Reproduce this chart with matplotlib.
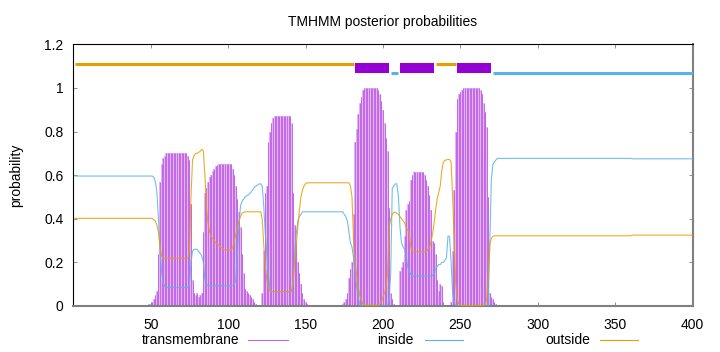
import numpy as np
import matplotlib
matplotlib.use('Agg')
import matplotlib.pyplot as plt
from matplotlib.lines import Line2D

plt.rcParams['font.family'] = ['Liberation Sans', 'DejaVu Sans']

# posterior probabilities per residue (1..400)
tm_prob = ([0.0]*48
           + [0.01, 0.01, 0.02, 0.03, 0.05, 0.07, 0.24, 0.57, 0.65, 0.68, 0.69]
           + [0.70]*14
           + [0.69, 0.67, 0.47, 0.12, 0.06, 0.05, 0.06, 0.04, 0.05, 0.06]
           + [0.34, 0.52, 0.54, 0.57, 0.59, 0.60, 0.62, 0.63, 0.64, 0.645]
           + [0.65]*9
           + [0.63, 0.60, 0.55, 0.49, 0.43, 0.36, 0.24, 0.15, 0.08, 0.07, 0.06, 0.05, 0.04, 0.03, 0.02, 0.01]
           + [0.0]*3
           + [0.06, 0.25, 0.52, 0.55, 0.75, 0.80, 0.84, 0.86]
           + [0.87]*11
           + [0.84, 0.52, 0.37, 0.30, 0.20, 0.15, 0.10, 0.06, 0.03, 0.02, 0.01]
           + [0.0]*22
           + [0.01, 0.02, 0.03, 0.06, 0.13, 0.17, 0.20, 0.42, 0.75, 0.81, 0.88, 0.93, 0.96, 0.99]
           + [1.0]*9
           + [0.99, 0.97, 0.94, 0.90, 0.84, 0.77, 0.71, 0.45, 0.06, 0.03, 0.01]
           + [0.0]*3
           + [0.16, 0.18, 0.20, 0.32, 0.44, 0.47, 0.48, 0.58, 0.60]
           + [0.615]*7
           + [0.60, 0.58, 0.55, 0.51, 0.44, 0.30, 0.29, 0.24, 0.12, 0.07, 0.10, 0.09, 0.02]
           + [0.0]*4
           + [0.02, 0.25, 0.53, 0.80, 0.95, 0.97, 0.98, 0.99]
           + [1.0]*11
           + [0.99, 0.97, 0.93, 0.89, 0.82, 0.50, 0.06, 0.04, 0.03, 0.02, 0.01]
           + [0.0]*127)

inside_prob = ([0.596]*51
               + [0.59, 0.57, 0.52, 0.40, 0.25, 0.16, 0.11, 0.09]
               + [0.085]*15
               + [0.10, 0.20, 0.25, 0.26, 0.26, 0.26, 0.25, 0.24, 0.23, 0.20, 0.12, 0.10]
               + [0.093]*15
               + [0.094, 0.095, 0.10, 0.12, 0.25, 0.37, 0.46, 0.48, 0.49, 0.50, 0.505, 0.51, 0.515,
                  0.525, 0.535, 0.545, 0.55, 0.555, 0.56, 0.56, 0.55, 0.46, 0.33, 0.24, 0.14, 0.08]
               + [0.066]*14
               + [0.10, 0.25, 0.33, 0.39, 0.41, 0.42]
               + [0.432]*27
               + [0.42, 0.41, 0.39, 0.34, 0.29, 0.27, 0.22, 0.16, 0.09, 0.04, 0.01]
               + [0.0]*18
               + [0.03, 0.15, 0.54, 0.55, 0.56, 0.56, 0.50, 0.36, 0.29, 0.27, 0.26, 0.23, 0.18, 0.16, 0.145]
               + [0.137]*13
               + [0.14, 0.15, 0.17, 0.18, 0.19, 0.19, 0.20, 0.20, 0.21, 0.22, 0.32, 0.32, 0.20, 0.06, 0.02]
               + [0.0]*22
               + [0.30, 0.58, 0.65, 0.66, 0.67]
               + [0.677]*87
               + [0.675]*40)

outside_prob = ([0.402]*51
                + [0.395, 0.39, 0.37, 0.34, 0.27, 0.23, 0.22]
                + [0.219]*16
                + [0.26, 0.50, 0.67, 0.69, 0.70, 0.70, 0.705, 0.71, 0.718, 0.71, 0.60, 0.45, 0.38,
                   0.34, 0.32, 0.31, 0.30, 0.29, 0.285, 0.28, 0.27, 0.265, 0.26]
                + [0.257]*5
                + [0.27, 0.30, 0.33, 0.36, 0.39, 0.41, 0.425, 0.43]
                + [0.432]*11
                + [0.40, 0.28, 0.18, 0.12, 0.09]
                + [0.066]*14
                + [0.07, 0.12, 0.20, 0.28, 0.36, 0.44, 0.50, 0.53, 0.55, 0.56]
                + [0.565]*28
                + [0.55, 0.50, 0.30, 0.20, 0.14, 0.09, 0.05, 0.03, 0.01]
                + [0.005]*10
                + [0.01, 0.02, 0.04, 0.06, 0.09, 0.15, 0.36, 0.40, 0.42, 0.43, 0.43, 0.425, 0.42,
                   0.41, 0.40, 0.39, 0.38, 0.36, 0.35, 0.33, 0.27]
                + [0.249]*10
                + [0.26, 0.27, 0.29, 0.33, 0.38, 0.44, 0.49, 0.52, 0.55, 0.62, 0.66, 0.668, 0.67,
                   0.672, 0.672, 0.66, 0.50, 0.30, 0.10, 0.03, 0.01]
                + [0.003]*16
                + [0.01, 0.03, 0.14, 0.28, 0.31, 0.32]
                + [0.322]*89
                + [0.325]*40)

# predicted topology (start, end residue)
tm_segments = [(182, 204), (211, 233), (248, 270)]
inside_segments = [(205, 210), (271, 400)]
outside_segments = [(1, 181), (234, 247)]

residues = np.arange(1, len(tm_prob) + 1)

c_tm = '#9400d3'
c_in = '#56b4e9'
c_out = '#e69f00'

fig = plt.figure(figsize=(7.2, 3.52), dpi=100)
ax = fig.add_axes([0.1018, 0.1307, 0.8602, 0.7434])

# impulses for transmembrane
ax.bar(residues, tm_prob, width=1.0, color='#e2b6f2', linewidth=0, zorder=1)
ax.vlines(residues, 0, tm_prob, color='#c468e6', lw=0.7, zorder=2)

ax.plot(residues, inside_prob, color=c_in, lw=0.8, alpha=0.85, zorder=3)
ax.plot(residues, outside_prob, color=c_out, lw=0.8, alpha=0.85, zorder=3)

# topology bar on top
for s, e in outside_segments:
    ax.plot([s, e], [1.11, 1.11], color=c_out, lw=2.2, solid_capstyle='butt', zorder=4)
for s, e in inside_segments:
    ax.plot([s, e], [1.07, 1.07], color=c_in, lw=2.2, solid_capstyle='butt', zorder=4)
ax.broken_barh([(s, e - s) for s, e in tm_segments], (1.067, 0.046), facecolors=c_tm, zorder=4)

ax.set_xlim(0, 400)
ax.set_ylim(0, 1.2)
ax.set_xticks([50, 100, 150, 200, 250, 300, 350, 400])
ax.set_yticks([0, 0.2, 0.4, 0.6, 0.8, 1.0, 1.2])
ax.set_yticklabels(['0', '0.2', '0.4', '0.6', '0.8', '1', '1.2'])
ax.tick_params(direction='in', length=3, width=0.6, color='#808080',
               top=True, right=True, labelsize=10, pad=7)
ax.tick_params(axis='x', pad=9)

for side in ['left', 'top']:
    ax.spines[side].set_color('black')
    ax.spines[side].set_linewidth(0.8)
for side in ['right', 'bottom']:
    ax.spines[side].set_color('#808080')
    ax.spines[side].set_linewidth(1.5)

ax.set_title('TMHMM posterior probabilities', fontsize=10, pad=13)
ax.set_ylabel('probability', fontsize=10, labelpad=15)

# gnuplot style key below the plot
legend_items = [('transmembrane', '#b86ae0', 0.333, 0.345, 0.400),
                ('inside', c_in, 0.575, 0.590, 0.643),
                ('outside', c_out, 0.820, 0.833, 0.886)]
for label, col, tx, x0, x1 in legend_items:
    fig.text(tx, 0.033, label, ha='right', va='center', fontsize=10)
    fig.add_artist(Line2D([x0, x1], [0.033, 0.033], color=col, lw=0.8, transform=fig.transFigure))

fig.savefig('out.png', dpi=100)
